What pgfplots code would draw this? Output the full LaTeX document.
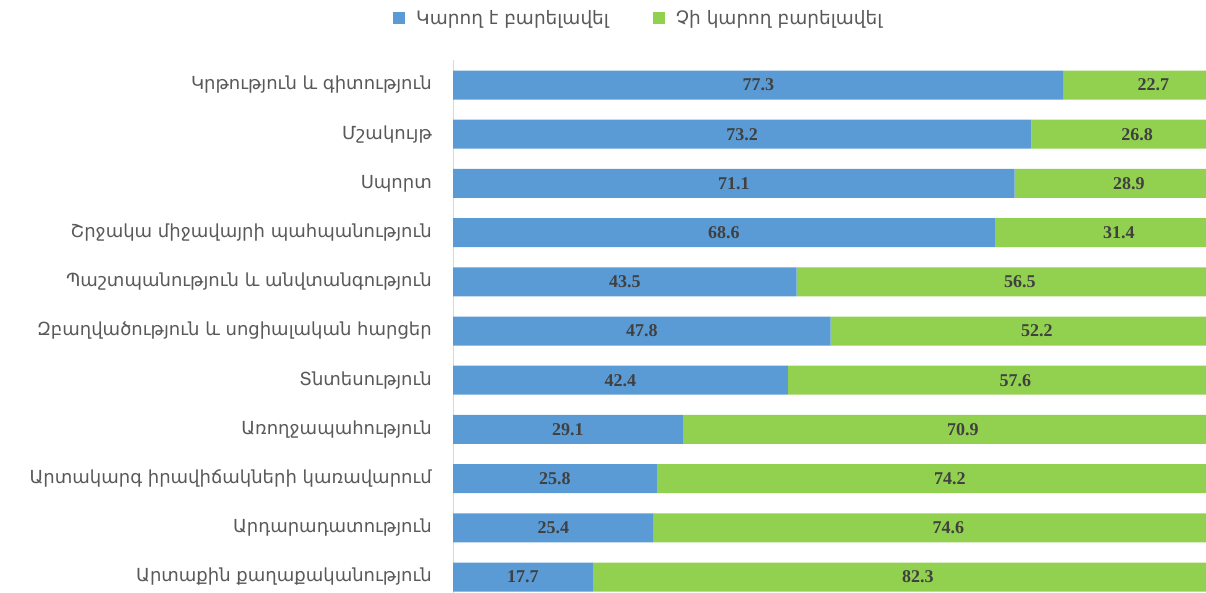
\documentclass[border=0pt]{standalone}
\usepackage{fontspec}
\setmainfont{DejaVu Sans}
\newfontfamily\numfont{Liberation Serif}
\usepackage{pgfplots}
\usepackage{pgfplotstable}
\pgfplotsset{compat=1.18}
\definecolor{cblue}{HTML}{5B9BD5}
\definecolor{cgreen}{HTML}{92D050}
\definecolor{txt}{HTML}{595959}
\definecolor{num}{HTML}{404040}
\pgfplotstableread{
i a b
0 77.3 22.7
1 73.2 26.8
2 71.1 28.9
3 68.6 31.4
4 43.5 56.5
5 47.8 52.2
6 42.4 57.6
7 29.1 70.9
8 25.8 74.2
9 25.4 74.6
10 17.7 82.3
}\data
\begin{document}
\begin{tikzpicture}
\pgfplotsset{common/.style={at={(453pt,-9.6pt)}, anchor=south west, scale only axis,
  width=790pt, height=541.2pt, xmin=0, xmax=100, ymin=-0.5, ymax=10.5, y dir=reverse}}
\begin{axis}[common, xbar stacked, bar width=29pt,
  axis x line=none, axis y line*=left,
  y axis line style={draw=black!15, line width=1pt},
  ytick={0,...,10}, major tick length=0pt,
  yticklabels={Կրթություն և գիտություն, Մշակույթ, Սպորտ, Շրջակա միջավայրի պահպանություն, Պաշտպանություն և անվտանգություն, Զբաղվածություն և սոցիալական հարցեր, Տնտեսություն, Առողջապահություն, Արտակարգ իրավիճակների կառավարում, Արդարադատություն, Արտաքին քաղաքականություն},
  yticklabel style={font=\fontsize{18}{21}\selectfont, text=txt, inner sep=0pt, xshift=-21pt},
  legend columns=2,
  legend style={draw=none, fill=none, inner sep=0pt, at={(-0.0759,1.0783)}, anchor=west,
    font=\fontsize{18.5}{21}\selectfont, text=txt,
    /tikz/every odd column/.append style={column sep=9pt},
    /tikz/every even column/.append style={column sep=42pt}},
  legend image code/.code={\fill[#1] (0pt,-6pt) rectangle (12pt,6pt);},
]
\addplot[fill=cblue, draw=none] table[x=a, y=i] {\data};
\addlegendentry{Կարող է բարելավել}
\addplot[fill=cgreen, draw=none] table[x=b, y=i] {\data};
\addlegendentry{Չի կարող բարելավել}
\end{axis}
\begin{axis}[common, hide axis, nodes near coords, point meta=explicit symbolic,
  every node near coord/.append style={anchor=center, inner sep=0pt,
    font=\numfont\bfseries\fontsize{18}{21}\selectfont, text=num}]
\addplot[draw=none, mark=none] table[x expr=\thisrow{a}/2, y=i, meta=a] {\data};
\addplot[draw=none, mark=none] table[x expr=\thisrow{a}+\thisrow{b}/2, y=i, meta=b] {\data};
\end{axis}
\pgfresetboundingbox
\path[use as bounding box] (0,0) rectangle (1206pt,592pt);
\end{tikzpicture}
\end{document}
